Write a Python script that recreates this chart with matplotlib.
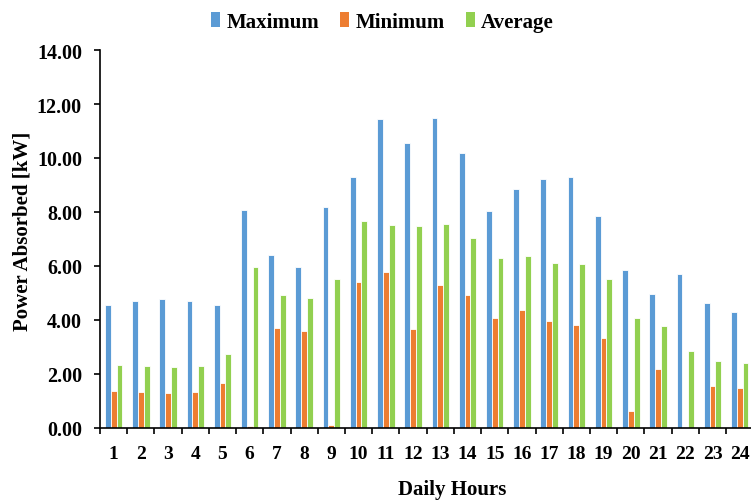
import numpy as np
import matplotlib.pyplot as plt
from matplotlib.patches import Patch

# Stunden des Tages
hours = list(range(1, 25))

# Leistungswerte [kW]
maximum = [4.56, 4.72, 4.76, 4.72, 4.54, 8.06, 6.40, 5.98, 8.18, 9.28, 11.45, 10.55,
           11.50, 10.19, 8.03, 8.87, 9.24, 9.30, 7.84, 5.84, 4.96, 5.69, 4.62, 4.28]
minimum = [1.37, 1.32, 1.29, 1.32, 1.65, 0.07, 3.72, 3.58, 0.10, 5.39, 5.76, 3.66,
           5.31, 4.94, 4.09, 4.37, 3.95, 3.80, 3.34, 0.63, 2.17, 0.00, 1.56, 1.50]
average = [2.33, 2.28, 2.25, 2.30, 2.73, 5.97, 4.91, 4.83, 5.53, 7.65, 7.51, 7.48,
           7.54, 7.03, 6.31, 6.37, 6.11, 6.06, 5.53, 4.09, 3.77, 2.86, 2.49, 2.42]

series = [
    ("Maximum", maximum, "#5B9BD5"),
    ("Minimum", minimum, "#ED7D31"),
    ("Average", average, "#92D050"),
]

plt.rcParams['font.family'] = ['Liberation Serif', 'DejaVu Serif']
plt.rcParams['font.weight'] = 'bold'

fig = plt.figure(figsize=(7.51, 5.02), dpi=100)
ax = fig.add_axes([100 / 751, 1 - 429 / 502, 653.3 / 751, 378 / 502])

x = np.arange(1, 25)
bw = 0.213
for i, (name, vals, col) in enumerate(series):
    ax.bar(x + (i - 1) * bw, vals, width=bw, color=col, edgecolor='white',
           linewidth=0.6, label=name, zorder=2)

ax.set_xlim(0.5, 24.5)
ax.set_ylim(0, 14)
ax.set_yticks(np.arange(0, 15, 2))
ax.set_yticklabels([f"{v:.2f}" for v in np.arange(0, 15, 2)])
ax.set_xticks(x)
ax.set_xticklabels([str(h) for h in hours])
ax.set_xticks(np.arange(0.5, 25, 1), minor=True)

ax.tick_params(axis='x', which='major', length=0, pad=12, labelsize=14)
ax.tick_params(axis='x', which='minor', length=4, width=1.2, direction='out')
ax.tick_params(axis='y', length=4, width=1.2, direction='out', pad=9, labelsize=14.5)

for s in ['top', 'right']:
    ax.spines[s].set_visible(False)
for s in ['left', 'bottom']:
    ax.spines[s].set_linewidth(1.2)

ax.set_xlabel("Daily Hours", fontsize=15, fontweight='bold', va='top')
ax.xaxis.set_label_coords(0.539, -0.135)
ax.set_ylabel("Power Absorbed [kW]", fontsize=15, fontweight='bold', va='center')
ax.yaxis.set_label_coords(-0.119, 0.524)

handles = [Patch(facecolor=c, label=n) for n, _, c in series]
fig.legend(handles=handles, loc='upper center', bbox_to_anchor=(0.509, 1.012), ncol=3,
           frameon=False, fontsize=15, handlelength=0.45, handleheight=0.75,
           handletextpad=0.3, columnspacing=1.0)

plt.savefig("out.png", dpi=100)
